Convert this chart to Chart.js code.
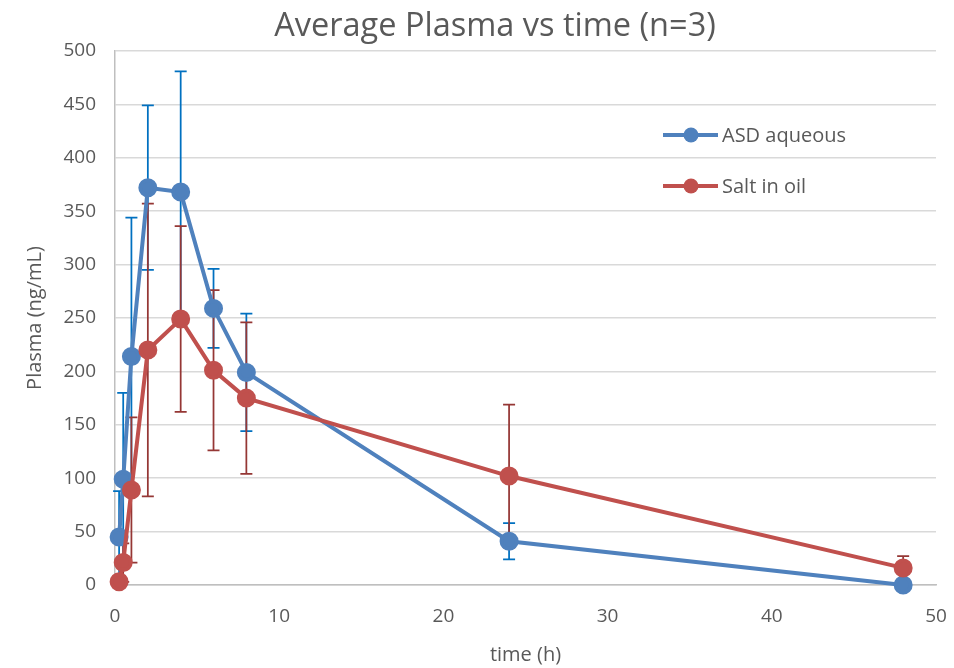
<!DOCTYPE html>
<html>
<head>
<meta charset="utf-8">
<script src="https://cdn.jsdelivr.net/npm/chart.js@4.4.1/dist/chart.umd.min.js"></script>
<style>
  html, body { margin: 0; padding: 0; background: #fff; }
  #wrap { width: 954px; height: 668px; }
</style>
</head>
<body>
<div id="wrap"><canvas id="plasmaChart" width="954" height="668"></canvas></div>
<script>
// sampling times (h)
const times = [0.25, 0.5, 1, 2, 4, 6, 8, 24, 48];

// ASD aqueous: mean and error (ng/mL)
const asdMean = [45, 99, 214, 372, 368, 259, 199, 41, 0];
const asdErr = [43, 81, 130, 77, 113, 37, 55, 17, 0];

// Salt in oil: mean and error (ng/mL)
const saltMean = [3, 21, 89, 220, 249, 201, 175, 102, 16];
const saltErr = [2, 18, 68, 137, 87, 75, 71, 67, 11];

const seriesNames = ["ASD aqueous", "Salt in oil"];
const chartTitle = "Average Plasma vs time (n=3)";
const lineColors = ["#4F81BD", "#C0504D"];
const barColors = ["#0070C0", "#953735"];

const fontFamily = "'Open Sans', sans-serif";
const textColor = "#595959";

function toPoints(xs, ys) {
  return xs.map((x, i) => ({ x, y: ys[i] }));
}

// error bars, drawn under the lines
const errorBars = {
  id: "errorBars",
  beforeDatasetsDraw(chart) {
    const ctx = chart.ctx;
    const xs = chart.scales.x;
    const ys = chart.scales.y;
    const errs = [asdErr, saltErr];
    chart.data.datasets.forEach((ds, d) => {
      ctx.save();
      ctx.strokeStyle = barColors[d];
      ctx.lineWidth = 1.75;
      ds.data.forEach((p, i) => {
        const e = errs[d][i];
        if (!e) return;
        const px = xs.getPixelForValue(p.x);
        const top = ys.getPixelForValue(p.y + e);
        const bot = ys.getPixelForValue(Math.max(p.y - e, 0));
        ctx.beginPath();
        ctx.moveTo(px, top);
        ctx.lineTo(px, bot);
        ctx.moveTo(px - 6, top);
        ctx.lineTo(px + 6, top);
        if (p.y - e >= 0) {
          ctx.moveTo(px - 6, bot);
          ctx.lineTo(px + 6, bot);
        }
        ctx.stroke();
      });
      ctx.restore();
    });
  },
};

// title and legend, placed the way Excel put them
const excelText = {
  id: "excelText",
  afterDraw(chart) {
    const ctx = chart.ctx;
    ctx.save();
    ctx.fillStyle = textColor;
    ctx.font = "32.5px " + fontFamily;
    ctx.textAlign = "center";
    ctx.textBaseline = "alphabetic";
    ctx.fillText(chartTitle, 495, 36);

    const x0 = 663;
    const rows = [135, 186];
    ctx.textAlign = "left";
    chart.data.datasets.forEach((ds, i) => {
      const y = rows[i];
      ctx.strokeStyle = lineColors[i];
      ctx.lineWidth = 4;
      ctx.beginPath();
      ctx.moveTo(x0, y);
      ctx.lineTo(x0 + 55, y);
      ctx.stroke();
      ctx.fillStyle = lineColors[i];
      ctx.beginPath();
      ctx.arc(x0 + 28, y, 7.5, 0, Math.PI * 2);
      ctx.fill();
      ctx.fillStyle = textColor;
      ctx.font = "20px " + fontFamily;
      ctx.textBaseline = "middle";
      ctx.fillText(ds.label, x0 + 59, y + 1);
    });
    ctx.restore();
  },
};

const ctx = document.getElementById("plasmaChart").getContext("2d");
new Chart(ctx, {
  type: "scatter",
  data: {
    datasets: [
      {
        label: seriesNames[0],
        data: toPoints(times, asdMean),
        borderColor: lineColors[0],
        backgroundColor: lineColors[0],
        showLine: true,
        borderWidth: 4,
        pointRadius: 7.5,
        pointHoverRadius: 7.5,
        clip: false,
        order: 1,
      },
      {
        label: seriesNames[1],
        data: toPoints(times, saltMean),
        borderColor: lineColors[1],
        backgroundColor: lineColors[1],
        showLine: true,
        borderWidth: 4,
        pointRadius: 7.5,
        pointHoverRadius: 7.5,
        clip: false,
        order: 0,
      },
    ],
  },
  options: {
    responsive: false,
    animation: false,
    layout: { padding: { left: 0, right: 18, top: 51, bottom: 0 } },
    scales: {
      x: {
        type: "linear",
        min: 0,
        max: 50,
        ticks: {
          stepSize: 10,
          color: textColor,
          font: { family: fontFamily, size: 19 },
          padding: 20,
        },
        grid: { display: false, drawTicks: false },
        border: { color: "#BFBFBF", width: 1.5 },
        title: {
          display: true,
          text: "time (h)",
          color: textColor,
          font: { family: fontFamily, size: 20 },
          padding: { top: 10, bottom: 1 },
        },
        afterFit: (s) => {
          s.height = 83;
          s.paddingLeft = 0;
          s.paddingRight = 0;
        },
      },
      y: {
        min: 0,
        max: 500,
        ticks: {
          stepSize: 50,
          color: textColor,
          font: { family: fontFamily, size: 19 },
          padding: 19,
        },
        grid: { color: "#D9D9D9", lineWidth: 1.5, drawTicks: false },
        border: { color: "#BFBFBF", width: 1.5 },
        title: {
          display: true,
          text: "Plasma (ng/mL)",
          color: textColor,
          font: { family: fontFamily, size: 20 },
          padding: { top: 23, bottom: 0 },
        },
        afterFit: (s) => {
          s.width = 115;
          s.paddingTop = 0;
          s.paddingBottom = 0;
        },
      },
    },
    plugins: {
      legend: { display: false },
      tooltip: { enabled: false },
      title: { display: false },
    },
  },
  plugins: [errorBars, excelText],
});
</script>
</body>
</html>
